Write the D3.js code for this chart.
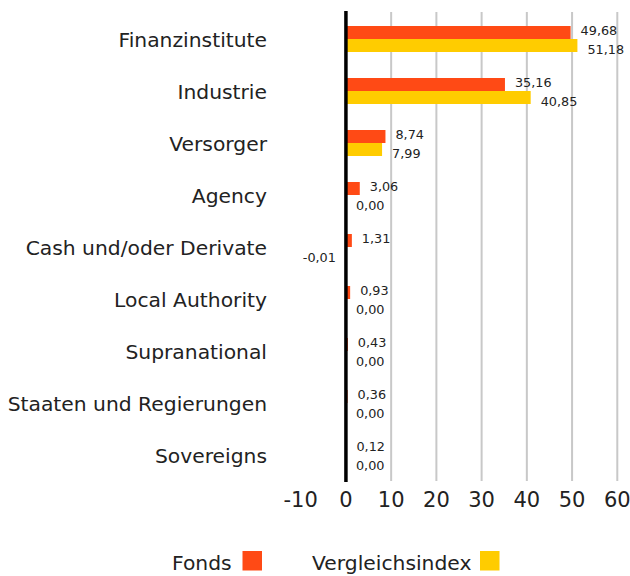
<!DOCTYPE html>
<html><head><meta charset="utf-8">
<script src="https://cdn.jsdelivr.net/npm/d3@7"></script>
<style>body{margin:0;background:#fff;} text{font-family:"DejaVu Sans",sans-serif;fill:#222;}</style>
</head><body>
<svg id="c" width="630" height="576"></svg>
<script>
const categories = ["Finanzinstitute","Industrie","Versorger","Agency","Cash und/oder Derivate","Local Authority","Supranational","Staaten und Regierungen","Sovereigns"];
const fonds = [49.68,35.16,8.74,3.06,1.31,0.93,0.43,0.36,0.12];
const index = [51.18,40.85,7.99,0.00,-0.01,0.00,0.00,0.00,0.00];
const xTicks = [-10,0,10,20,30,40,50,60];
const seriesNames = ["Fonds","Vergleichsindex"];
const colors = ["#FF4A15","#FFCC00"];

const svg = d3.select("#c");
const x = d3.scaleLinear().domain([-10,60]).range([300.7,617.3]);
const y = d3.scaleBand().domain(categories).range([13,481]).paddingInner(0.5).paddingOuter(0.25);
const fmt = v => v.toFixed(2).replace(".",",");

// gridlines
svg.append("g").selectAll("line").data(xTicks.filter(t=>t>0)).join("line")
  .attr("x1",d=>x(d)).attr("x2",d=>x(d)).attr("y1",12).attr("y2",481)
  .attr("stroke","#c8c8c8").attr("stroke-width",2);

const sub = d3.scaleBand().domain([0,1]).range([0,y.bandwidth()]);
const data = [fonds,index];
data.forEach((arr,si)=>{
  const g = svg.append("g");
  g.selectAll("rect").data(arr).join("rect")
    .attr("x",d=>x(Math.min(0,d)))
    .attr("width",d=>Math.abs(x(d)-x(0)))
    .attr("y",(d,i)=>y(categories[i])+sub(si))
    .attr("height",sub.bandwidth())
    .attr("fill",colors[si]);
  g.selectAll("text").data(arr).join("text")
    .attr("x",d=> d<0 ? x(0)-10 : x(d)+10)
    .attr("text-anchor",d=> d<0 ? "end":"start")
    .attr("y",(d,i)=>y(categories[i])+sub(si)+sub.bandwidth()/2 + (si===0?-1.5:4.5))
    .attr("dy","0.35em")
    .attr("font-size",12.8)
    .text(fmt);
});

// zero line
svg.append("line").attr("x1",x(0)).attr("x2",x(0)).attr("y1",11).attr("y2",482)
  .attr("stroke","#000").attr("stroke-width",3.5);

// category labels
svg.append("g").selectAll("text").data(categories).join("text")
  .attr("x",267).attr("y",d=>y(d)+y.bandwidth()/2+1).attr("dy","0.35em")
  .attr("text-anchor","end").attr("font-size",20.3).text(d=>d);

// x axis labels
svg.append("g").selectAll("text").data(xTicks).join("text")
  .attr("x",d=>x(d)).attr("y",500).attr("dy","0.35em")
  .attr("text-anchor","middle").attr("font-size",21).text(d=>d);

// legend
const leg = [{name:seriesNames[0],tx:172,sx:242.5},{name:seriesNames[1],tx:312,sx:480}];
leg.forEach((l,i)=>{
  svg.append("text").attr("x",l.tx).attr("y",570).attr("font-size",20.3).text(l.name);
  svg.append("rect").attr("x",l.sx).attr("y",551).attr("width",19.5).attr("height",19.5).attr("fill",colors[i]);
});
</script>
</body></html>
